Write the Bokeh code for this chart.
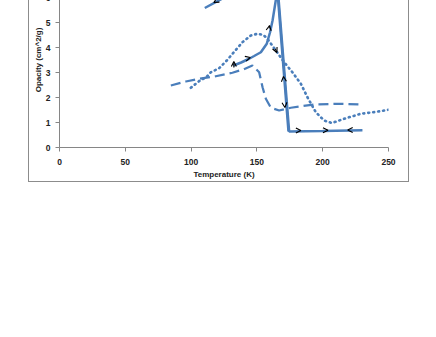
import math
from bokeh.plotting import figure
from bokeh.models import (ColumnDataSource, FixedTicker, Arrow, OpenHead)
from bokeh.embed import file_html
from bokeh.resources import INLINE

# ---- data ----
solid_a_T = [132.2, 138, 144.1, 147.9, 153, 157.5, 160, 161.9, 164.4, 165.8, 174.5, 200, 230.2]
solid_a_v = [3.28, 3.4, 3.55, 3.66, 3.81, 4.15, 4.61, 5.08, 5.9, 6.38, 0.64, 0.66, 0.69]

solid_b_T = [174.0, 165.4, 140, 110.4]
solid_b_v = [0.64, 6.4, 6.42, 5.58]

dotted_T = [99.8, 103.6, 107.4, 111.2, 115, 121.3, 127.1, 131.5, 139, 145.4, 150.5, 155, 158,
            164.4, 170.7, 177, 183.4, 188.4, 194.8, 201, 207, 216.3, 229, 240, 250]
dotted_v = [2.39, 2.55, 2.71, 2.79, 3.01, 3.17, 3.48, 3.75, 4.21, 4.48, 4.55, 4.5, 4.35,
            3.88, 3.41, 3.01, 2.55, 2.01, 1.41, 1.08, 0.98, 1.15, 1.35, 1.42, 1.51]

dashed_T = [84.6, 96, 106, 118.8, 131.4, 140, 146.6, 151.7, 154.3, 156.8, 160.6, 166.9,
            175.8, 193.5, 213.8, 230.2]
dashed_v = [2.48, 2.64, 2.75, 2.85, 2.99, 3.13, 3.28, 3.01, 2.41, 1.95, 1.59, 1.48,
            1.59, 1.72, 1.75, 1.72]

# arrow tips (T, opacity) and screen direction in degrees (0 = right, 90 = up)
arrow_T = [117.3, 132.5, 145.0, 159.6, 165.2, 170.2, 171.3, 183.4, 204.0, 219.0]
arrow_v = [5.80, 3.44, 3.60, 4.88, 3.80, 2.84, 1.60, 0.68, 0.69, 0.70]
arrow_dir = [210, 90, 15, 80, -65, 95, -85, 0, 0, 180]
arrow_stem = [1, 6, 1, 3, 4, 1, 1, 1, 1, 1]

x_ticks = [0, 50, 100, 150, 200, 250]
y_ticks = [0, 1, 2, 3, 4, 5, 6, 7]

BLUE = "#4a7ebb"
AX = "#868686"

p = figure(frame_width=329, frame_height=175, min_border_left=30, min_border_right=20,
           min_border_top=10, min_border_bottom=33,
           x_range=(0, 250), y_range=(0, 7),
           output_backend="svg", toolbar_location=None)
p.styles = {"margin-top": "-39px", "margin-left": "28px",
            "border": "1px solid #8c8c8c"}
p.outline_line_color = None
p.xgrid.visible = False
p.ygrid.visible = False

p.line(solid_b_T, solid_b_v, line_color=BLUE, line_width=2.5)
p.line(solid_a_T, solid_a_v, line_color=BLUE, line_width=2.5)
p.line(dashed_T, dashed_v, line_color=BLUE, line_width=2.25, line_dash="10 5")
p.line(dotted_T, dotted_v, line_color=BLUE, line_width=2.6, line_dash="1 4",
       line_cap="round")

# arrows
px_per_T = 329 / 250.0
px_per_v = 175 / 7.0
xs, ys = [], []
for t, v, a, s in zip(arrow_T, arrow_v, arrow_dir, arrow_stem):
    r = math.radians(a)
    xs.append(t - math.cos(r) * s / px_per_T)
    ys.append(v - math.sin(r) * s / px_per_v)
asrc = ColumnDataSource(dict(x0=xs, y0=ys, x1=arrow_T, y1=arrow_v))
p.add_layout(Arrow(end=OpenHead(size=5, line_color="black", line_width=1.1),
                   x_start="x0", y_start="y0", x_end="x1", y_end="y1",
                   line_color="black", line_width=1.1, source=asrc))

for ax in (p.xaxis[0], p.yaxis[0]):
    ax.axis_line_color = AX
    ax.major_tick_line_color = AX
    ax.major_tick_out = 4
    ax.major_tick_in = 0
    ax.minor_tick_line_color = None
    ax.major_label_text_font = "Liberation Sans"
    ax.major_label_text_font_style = "bold"
    ax.major_label_text_font_size = "8.5px"
    ax.major_label_text_color = "#222222"
    ax.axis_label_text_font = "Liberation Sans"
    ax.axis_label_text_font_style = "bold"
    ax.axis_label_text_font_size = "8px"
    ax.axis_label_text_color = "#222222"

p.xaxis.ticker = FixedTicker(ticks=x_ticks)
p.yaxis.ticker = FixedTicker(ticks=y_ticks)
p.xaxis.axis_label = "Temperature (K)"
p.yaxis.axis_label = "Opacity (cm^2/g)"
p.xaxis.major_label_standoff = 7
p.xaxis.axis_label_standoff = 2
p.yaxis.major_label_standoff = 5
p.yaxis.axis_label_standoff = 0

open("out.html", "w").write(file_html(p, INLINE))
